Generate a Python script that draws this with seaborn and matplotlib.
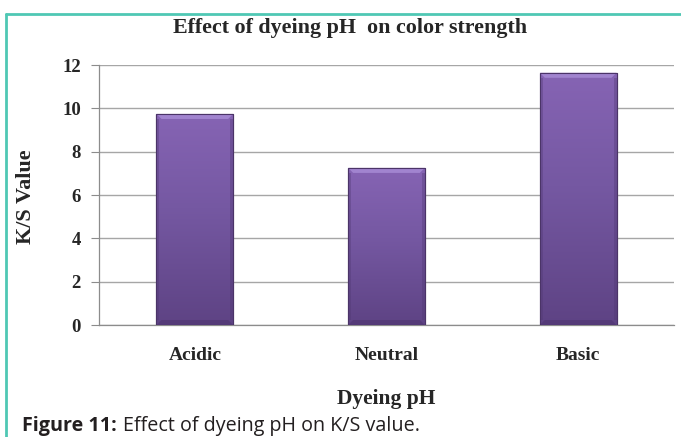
import numpy as np
import pandas as pd
import matplotlib
matplotlib.use("Agg")
import matplotlib.pyplot as plt
from matplotlib.colors import LinearSegmentedColormap
from matplotlib.lines import Line2D
from matplotlib.patches import Polygon, Rectangle
import seaborn as sns

# K/S colour strength measured at three dyeing pH conditions
categories = ["Acidic", "Neutral", "Basic"]
ks_values = [9.74, 7.25, 11.64]
y_ticks = [0, 2, 4, 6, 8, 10, 12]

sns.set_theme(style="white")
plt.rcParams["font.family"] = ["Liberation Serif", "DejaVu Serif"]

W, H = 681, 437
fig = plt.figure(figsize=(W / 100, H / 100), dpi=100)
fig.patch.set_facecolor("white")

ax_left, ax_right, ax_top, ax_bottom = 99, 674, 65, 325
ax = fig.add_axes([ax_left / W, 1 - ax_bottom / H,
                   (ax_right - ax_left) / W, (ax_bottom - ax_top) / H])
df = pd.DataFrame({"pH": categories, "KS": ks_values})
sns.barplot(data=df, x="pH", y="KS", ax=ax, color="#7a5aa6", width=0.4,
            edgecolor="#4b3468", linewidth=0.8, saturation=1, zorder=3)

ax.set_ylim(0, 12)
ax.set_xlim(-0.5, 2.5)
ax.set_yticks(y_ticks)
ax.set_yticklabels([str(t) for t in y_ticks], fontsize=13.5, fontweight="bold")
ax.set_xticklabels(categories, fontsize=14, fontweight="bold")
ax.tick_params(axis="y", length=6, width=0.8, color="#8c8c8c", pad=7, left=True)
ax.tick_params(axis="x", length=0, pad=16)

ax.yaxis.grid(True, color="#a6a6a6", linewidth=1.0, zorder=0)
ax.set_axisbelow(True)
for side in ["top", "right"]:
    ax.spines[side].set_visible(False)
for side in ["left", "bottom"]:
    ax.spines[side].set_color("#8c8c8c")
    ax.spines[side].set_linewidth(0.9)

ax.set_xlabel("Dyeing pH", fontsize=15.5, fontweight="bold", labelpad=18)
ax.set_ylabel("")
fig.text(26 / W, 1 - 197 / H, "K/S Value", fontsize=16, fontweight="bold",
         rotation=90, ha="center", va="center")
fig.text(350 / W, 1 - 28 / H, "Effect of dyeing pH  on color strength",
         fontsize=15.8, fontweight="bold", ha="center", va="center")

# vertical gradient inside each bar, with bevelled top and bottom edges
cmap = LinearSegmentedColormap.from_list(
    "bar", [(0.0, "#5e4384"), (0.55, "#7558a2"), (1.0, "#8664b4")])
grad = np.linspace(0, 1, 256).reshape(-1, 1)
px_y = 12 / (ax_bottom - ax_top)          # data units per pixel (vertical)
px_x = 3 / (ax_right - ax_left)           # data units per pixel (horizontal)
bev_h, bev_w = 5 * px_y, 5 * px_x
for p in list(ax.patches):
    x0, y0 = p.get_x(), p.get_y()
    w, h = p.get_width(), p.get_height()
    im = ax.imshow(grad, cmap=cmap, aspect="auto", origin="lower",
                   extent=[x0, x0 + w, y0, y0 + h], zorder=3.5,
                   interpolation="bilinear")
    im.set_clip_path(p)
    top = y0 + h
    ax.add_patch(Polygon([(x0, top), (x0 + w, top), (x0 + w - bev_w, top - bev_h),
                          (x0 + bev_w, top - bev_h)], closed=True,
                         facecolor="#a184cf", edgecolor="none", zorder=3.7))
    ax.add_patch(Polygon([(x0, y0), (x0 + w, y0), (x0 + w - bev_w, y0 + bev_h),
                          (x0 + bev_w, y0 + bev_h)], closed=True,
                         facecolor="#543a78", edgecolor="none", zorder=3.7))
    for xs in ([x0, x0 + bev_w * 0.6], [x0 + w - bev_w * 0.6, x0 + w]):
        ax.add_patch(Rectangle((xs[0], y0 + bev_h), xs[1] - xs[0], h - 2 * bev_h,
                               facecolor="#4e3670", alpha=0.35,
                               edgecolor="none", zorder=3.6))
    ax.add_patch(Rectangle((x0, y0), w, h, fill=False,
                           edgecolor="#4b3468", linewidth=0.8, zorder=4))
ax.set_xlim(-0.5, 2.5)
ax.set_ylim(0, 12)

# teal frame along the top and left
teal = "#4fc8b4"
fig.add_artist(Line2D([5.5 / W, 5.5 / W], [0, 1 - 13.5 / H], color=teal,
                      linewidth=2, transform=fig.transFigure))
fig.add_artist(Line2D([5.5 / W, 1], [1 - 13.5 / H, 1 - 13.5 / H], color=teal,
                      linewidth=2, transform=fig.transFigure))

cap_font = ["Open Sans", "DejaVu Sans"]
t1 = fig.text(22 / W, 1 - 431 / H, "Figure 11:", fontsize=14.2, fontweight="bold",
              family=cap_font, va="baseline", color="#231f20")
renderer = fig.canvas.get_renderer()
bb = t1.get_window_extent(renderer=renderer)
fig.text((bb.x1 + 6) / W, 1 - 431 / H, "Effect of dyeing pH on K/S value.",
         fontsize=14.2, family=cap_font, va="baseline", color="#231f20")

fig.savefig("out.png", dpi=100, facecolor="white")
